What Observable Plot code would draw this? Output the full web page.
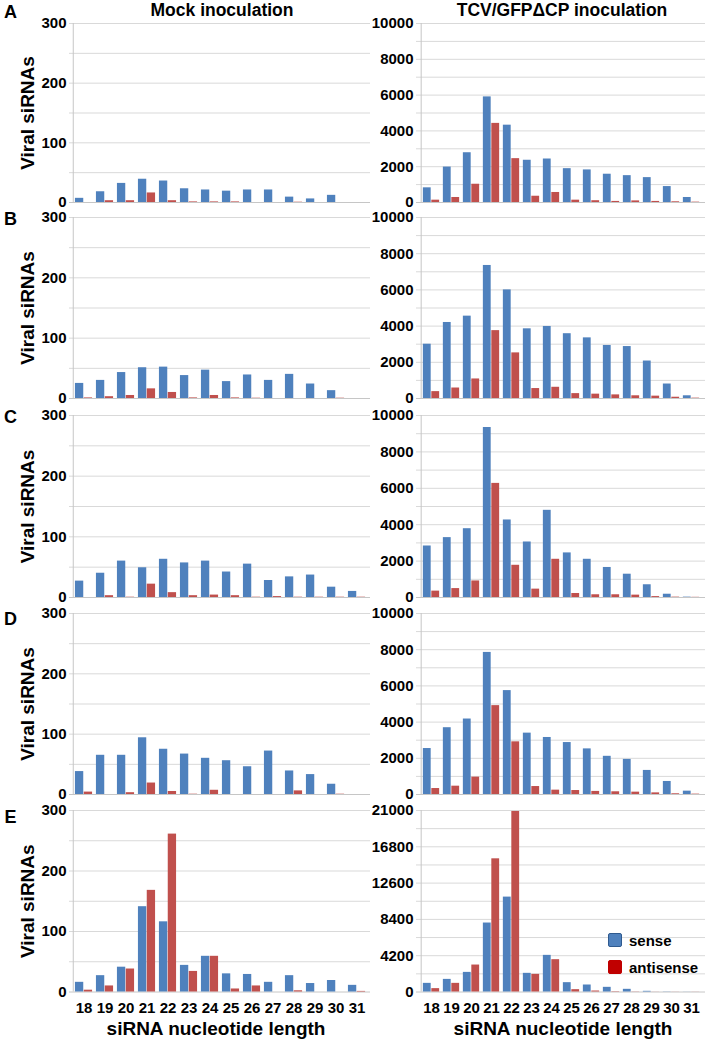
<!DOCTYPE html>
<html><head><meta charset="utf-8">
<script src="https://cdn.jsdelivr.net/npm/d3@7"></script>
<script src="https://cdn.jsdelivr.net/npm/@observablehq/plot@0.6"></script>
<style>
body{margin:0;background:#fff;}
#fig{position:relative;width:717px;height:1042px;overflow:hidden;font-family:"Liberation Sans",Arial,sans-serif;font-weight:bold;color:#000;}
.abs{position:absolute;white-space:nowrap;line-height:1;transform:translate(-50%,-50%);}
.plotbox{position:absolute;}
.plotbox svg{overflow:visible;background:transparent;}
</style></head><body><div id="fig"></div>
<script>
// ---------- data ----------
const lengths = [18,19,20,21,22,23,24,25,26,27,28,29,30,31];
const rowLetters = ["A","B","C","D","E"];

const mockSense_A = [7,18,32,39,36,23,21,19,21,21,9,6,12,0];
const mockAnti_A  = [0,3,3,16,3,1,1,1,0,0,0.5,0,0,0];
const tcvSense_A  = [820,1980,2780,5900,4320,2360,2430,1890,1820,1580,1500,1390,890,280];
const tcvAnti_A   = [130,280,1020,4420,2450,350,560,130,100,60,90,60,40,20];

const mockSense_B = [25,30,43,51,52,38,47,28,39,30,40,24,13,0];
const mockAnti_B  = [1,3,5,16,10,1,5,1,0.5,0,0,0,0.5,0];
const tcvSense_B  = [3000,4200,4550,7350,6000,3850,3980,3580,3350,2930,2870,2070,800,150];
const tcvAnti_B   = [380,580,1080,3750,2520,550,620,270,240,200,150,130,70,20];

const mockSense_C = [27,40,60,49,63,57,60,42,55,28,34,37,17,10];
const mockAnti_C  = [0,3,0.5,22,8,3,4,3,0.5,1.5,0.5,0.5,0.5,0.5];
const tcvSense_C  = [2830,3290,3780,9340,4260,3050,4790,2450,2100,1650,1280,700,180,20];
const tcvAnti_C   = [350,490,910,6270,1770,460,2100,220,150,150,130,50,20,10];

const mockSense_D = [38,65,65,94,75,67,60,56,46,72,39,33,17,0];
const mockAnti_D  = [4,0,3,19,5,0.5,7,0,0,0,6,0,0.5,0];
const tcvSense_D  = [2540,3690,4170,7850,5740,3390,3150,2870,2520,2110,1940,1330,720,185];
const tcvAnti_D   = [330,460,960,4910,2910,440,240,220,170,150,130,90,40,20];

const mockSense_E = [16,27,41,141,116,44,59,30,29,16,27,14,19,11];
const mockAnti_E  = [3,10,38,168,261,34,59,5,10,0,2,0,0,1];
const tcvSense_E  = [1000,1460,2270,7980,10980,2160,4240,1080,810,540,310,80,20,10];
const tcvAnti_E   = [390,1000,3120,15410,20890,2040,3740,270,115,40,20,10,10,10];

const mockTicks = [0,100,200,300];
const tcvTicks = [0,2000,4000,6000,8000,10000];
const tcvTicksE = [0,4200,8400,12600,16800,21000];

const seriesNames = ["sense","antisense"];
const colTitles = ["Mock inoculation","TCV/GFP\u0394CP inoculation"];
const yTitle = "Viral siRNAs";
const xTitle = "siRNA nucleotide length";

// ---------- style ----------
const BLUE = "#4F81BD", RED = "#C0504D";
const fig = document.getElementById("fig");
const rowTops = [22.5, 216.5, 414.5, 612.5, 810];
const rowHeights = [179, 181, 182, 181, 181.5];
const mT = 14, mB = 14, mBLast = 42;

function panel(opts) {
  const {sense, anti, yMax, yTicks, gridStep, left, width, mL, mR, top, h, showX, showYTitle} = opts;
  const data = lengths.map((len, i) => ({len, sense: sense[i], anti: anti[i]}));
  const step = (width - mL - mR) / lengths.length;
  const gap = step * 0.18;
  const bw = (step - gap) / 2;
  const bottom = showX ? mBLast : mB;
  const marks = [
    Plot.gridY(d3.range(gridStep, yMax + gridStep / 2, gridStep), {stroke: "#d9d9d9", strokeOpacity: 1}),
    Plot.ruleY([0], {stroke: "#c6c6c6"}),
    Plot.ruleX([lengths[0]], {dx: -step / 2, stroke: "#c6c6c6"}),
    Plot.barY(data, {x: "len", y: "sense", fill: BLUE, insetLeft: gap / 2, insetRight: gap / 2 + bw}),
    Plot.barY(data, {x: "len", y: "anti", fill: RED, insetLeft: gap / 2 + bw, insetRight: gap / 2}),
    Plot.axisY({ticks: yTicks, tickSize: 0, tickPadding: 3, tickFormat: "d", fontSize: 15, fontWeight: "bold", label: null})
  ];
  if (showX) marks.push(Plot.axisX({tickSize: 0, tickPadding: 10, fontSize: 15, fontWeight: "bold", label: null}));
  else marks.push(Plot.axisX({ticks: [], label: null}));
  if (showYTitle) marks.push(Plot.text([yTitle], {frameAnchor: "left", textAnchor: "middle", rotate: -90, dx: -(mL - 27), fontSize: 19, fontWeight: "bold", fill: "#000"}));
  const p = Plot.plot({
    width, height: mT + h + bottom,
    marginLeft: mL, marginRight: mR, marginTop: mT, marginBottom: bottom,
    x: {type: "band", domain: lengths, padding: 0},
    y: {domain: [0, yMax]},
    style: {fontFamily: "'Liberation Sans', Arial, sans-serif", color: "#000", background: "transparent", overflow: "visible"},
    marks
  });
  const box = document.createElement("div");
  box.className = "plotbox";
  box.style.left = left + "px";
  box.style.top = (top - mT) + "px";
  box.appendChild(p);
  fig.appendChild(box);
}

const rows = [
  [mockSense_A, mockAnti_A, tcvSense_A, tcvAnti_A],
  [mockSense_B, mockAnti_B, tcvSense_B, tcvAnti_B],
  [mockSense_C, mockAnti_C, tcvSense_C, tcvAnti_C],
  [mockSense_D, mockAnti_D, tcvSense_D, tcvAnti_D],
  [mockSense_E, mockAnti_E, tcvSense_E, tcvAnti_E]
];

rows.forEach((r, i) => {
  const last = i === rows.length - 1;
  panel({sense: r[0], anti: r[1], yMax: 300, yTicks: mockTicks, gridStep: 50,
         left: 0, width: 372, mL: 69, mR: 2, top: rowTops[i], h: rowHeights[i], showX: last, showYTitle: true});
  panel({sense: r[2], anti: r[3], yMax: last ? 21000 : 10000, yTicks: last ? tcvTicksE : tcvTicks,
         gridStep: last ? 2100 : 1000,
         left: 357, width: 360, mL: 59, mR: 12, top: rowTops[i], h: rowHeights[i], showX: last, showYTitle: false});
});

function label(text, x, y, size, extra) {
  const d = document.createElement("div");
  d.className = "abs";
  d.textContent = text;
  d.style.left = x + "px";
  d.style.top = y + "px";
  d.style.fontSize = size + "px";
  if (extra) Object.assign(d.style, extra);
  fig.appendChild(d);
  return d;
}

label(colTitles[0], 222, 10.5, 17.5);
label(colTitles[1], 562, 10.5, 17.5);
const letterY = [11.5, 219, 417, 618.5, 817];
rowLetters.forEach((t, i) => label(t, 10.5, letterY[i], 18));
label(xTitle, 216, 1028, 19);
label(xTitle, 563, 1028, 19);

// legend
function legendItem(name, color, border, y) {
  const sq = document.createElement("div");
  Object.assign(sq.style, {position: "absolute", left: "608px", top: (y - 7) + "px", width: "12px", height: "12px",
    background: color, border: "1.5px solid " + border, borderRadius: "2px"});
  fig.appendChild(sq);
  label(name, 629, y, 15, {transform: "translate(0,-50%)"});
}
legendItem(seriesNames[0], "#4F81BD", "#2F5A8F", 940);
legendItem(seriesNames[1], "#C00000", "#C00000", 966.5);
</script></body></html>
